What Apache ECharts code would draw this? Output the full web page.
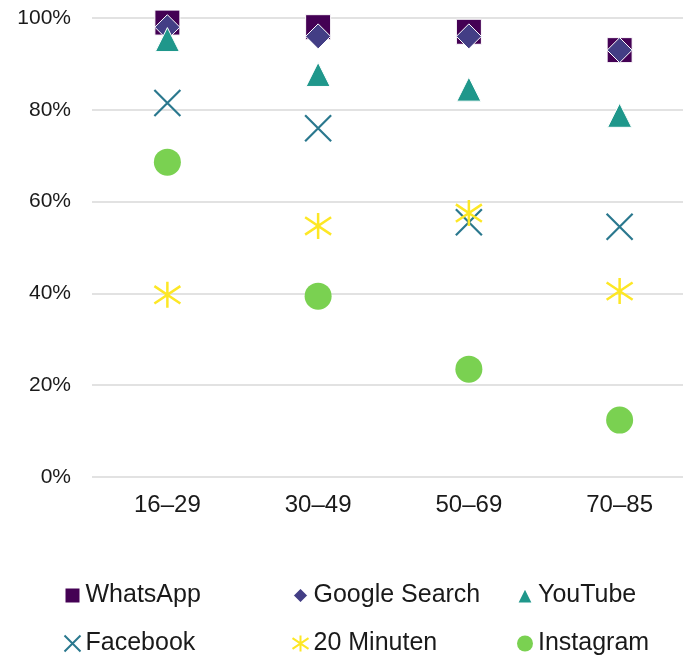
<!DOCTYPE html>
<html>
<head>
<meta charset="utf-8">
<script src="https://cdn.jsdelivr.net/npm/echarts@6/dist/echarts.min.js"></script>
<style>
  html, body { margin: 0; padding: 0; background: #fff; }
  #chart { width: 683px; height: 656px; }
</style>
</head>
<body>
<div id="chart"></div>
<script>
const ageGroups = ['16–29', '30–49', '50–69', '70–85'];
const yTicks = [0, 20, 40, 60, 80, 100];

const whatsapp = [99, 98, 97, 93];
const googleSearch = [98, 96, 96, 93];
const youtube = [95.3, 87.7, 84.5, 78.8];
const facebook = [81.5, 76, 55.5, 54.5];
const zwanzigMinuten = [39.7, 54.7, 57.5, 40.5];
const instagram = [68.6, 39.4, 23.5, 12.4];

const crossPath = 'path://M0,0L24,24M24,0L0,24';
const starPath = 'path://M12,0L12,24M0,4L24,20M24,4L0,20';

const chart = echarts.init(document.getElementById('chart'));

// one vertical legend per column, two rows each
const legendBase = {
  orient: 'vertical',
  top: 583,
  padding: 0,
  height: 73,
  itemWidth: 16,
  itemHeight: 16,
  itemGap: 23,
  textStyle: { fontFamily: 'Liberation Sans', fontSize: 25, lineHeight: 25, color: '#1a1a1a' }
};

const option = {
  animation: false,
  grid: { left: 92, top: 18, width: 603, height: 459, outerBoundsMode: 'none' },
  legend: [
    Object.assign({ left: 62, data: ['WhatsApp', 'Facebook'] }, legendBase),
    Object.assign({ left: 290, data: ['Google Search', '20 Minuten'] }, legendBase),
    Object.assign({ left: 516, data: ['YouTube', 'Instagram'] }, legendBase)
  ],
  xAxis: {
    type: 'category',
    data: ageGroups,
    axisLine: { show: false },
    axisTick: { show: false },
    axisLabel: { margin: 16, fontFamily: 'Liberation Sans', fontSize: 24, color: '#1a1a1a' }
  },
  yAxis: {
    type: 'value',
    min: yTicks[0],
    max: yTicks[yTicks.length - 1],
    interval: 20,
    axisLabel: { margin: 21, fontFamily: 'Liberation Sans', fontSize: 21, color: '#1a1a1a', formatter: '{value}%' },
    splitLine: { lineStyle: { color: '#d9d9d9', width: 1.5 } }
  },
  series: [
    {
      name: 'WhatsApp', type: 'scatter', data: whatsapp, clip: false,
      symbol: 'rect', symbolSize: 25,
      itemStyle: { color: '#440154', borderColor: '#fff', borderWidth: 1, opacity: 1 }
    },
    {
      name: 'Google Search', type: 'scatter', data: googleSearch, clip: false,
      symbol: 'diamond', symbolSize: 25,
      itemStyle: { color: '#433e85', borderColor: '#fff', borderWidth: 1, opacity: 1 }
    },
    {
      name: 'YouTube', type: 'scatter', data: youtube, clip: false,
      symbol: 'triangle', symbolSize: 24,
      itemStyle: { color: '#1f978b', borderColor: '#fff', borderWidth: 1, opacity: 1 }
    },
    {
      name: 'Facebook', type: 'scatter', data: facebook, clip: false,
      symbol: crossPath, symbolSize: 26,
      itemStyle: { color: 'none', borderColor: '#2a788e', borderWidth: 2.2, opacity: 1 }
    },
    {
      name: '20 Minuten', type: 'scatter', data: zwanzigMinuten, clip: false,
      symbol: starPath, symbolSize: 26,
      itemStyle: { color: 'none', borderColor: '#fde725', borderWidth: 2.5, opacity: 1 }
    },
    {
      name: 'Instagram', type: 'scatter', data: instagram, clip: false,
      symbol: 'circle', symbolSize: 27,
      itemStyle: { color: '#7ad151', opacity: 1 }
    }
  ]
};

chart.setOption(option);
</script>
</body>
</html>
